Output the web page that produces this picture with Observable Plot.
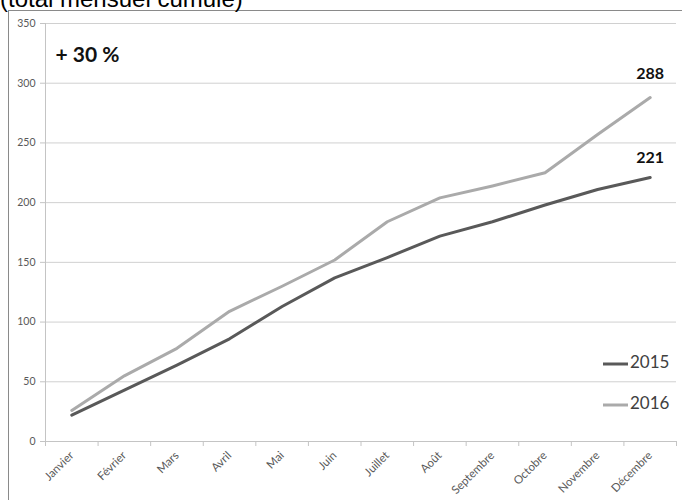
<!DOCTYPE html>
<html>
<head>
<meta charset="utf-8">
<script src="https://cdn.jsdelivr.net/npm/d3@7"></script>
<script src="https://cdn.jsdelivr.net/npm/@observablehq/plot@0.6"></script>
<style>
  html, body { margin: 0; padding: 0; background: #fff; width: 682px; height: 500px; overflow: hidden; position: relative; }
  #title { position: absolute; left: 0; top: -13px; font: 24px/24px "Liberation Sans", Arial, sans-serif; color: #000; white-space: nowrap; z-index: 2; }
  #frame { position: absolute; left: 8px; top: 10px; width: 700px; height: 520px; border: 1px solid #8a8a8a; background: #fff; }
  #chart { position: absolute; left: 0; top: 0; }
  .leg { position: absolute; font: 17px/17px Lato, "Open Sans", sans-serif; color: #404040; white-space: nowrap; }
  .leg svg { vertical-align: middle; margin-right: 2px; }
</style>
</head>
<body>
<div id="title">(total mensuel cumulé)</div>
<div id="frame"><div id="chart"></div></div>
<div id="legend"></div>
<script>
const months = ["Janvier","Février","Mars","Avril","Mai","Juin","Juillet","Août","Septembre","Octobre","Novembre","Décembre"];
const v2015 = [22, 43, 64, 86, 113, 137, 154, 172, 184, 198, 211, 221];
const v2016 = [26, 55, 78, 109, 130, 152, 184, 204, 214, 225, 257, 288];
const yTicks = [0, 50, 100, 150, 200, 250, 300, 350];
const seriesNames = ["2015", "2016"];
const seriesColors = ["#595959", "#aaaaaa"];
const growthLabel = "+ 30 %";

const rows = months.map((m, i) => ({pos: i + 0.5, month: m, y2015: v2015[i], y2016: v2016[i]}));
const last = rows[rows.length - 1];

const font = "Lato, 'Open Sans', sans-serif";

const chart = Plot.plot({
  width: 673,
  height: 489,
  marginLeft: 36,
  marginRight: 6,
  marginTop: 12,
  marginBottom: 59,
  style: {fontFamily: font, background: "transparent", overflow: "visible"},
  x: {type: "linear", domain: [0, months.length], axis: null, label: null},
  y: {domain: [0, 350], axis: null, label: null},
  marks: [
    Plot.gridY(yTicks, {stroke: "#d0d0d0", strokeOpacity: 1}),
    Plot.ruleY([0], {stroke: "#c4c4c4"}),
    Plot.ruleX([0], {stroke: "#c4c4c4"}),
    Plot.axisY({ticks: yTicks, label: null, tickSize: 5, tickPadding: 5, fontSize: 10.5, stroke: "#c4c4c4", fill: "#595959"}),
    Plot.axisX({ticks: d3.range(months.length + 1), label: null, tickFormat: () => "", tickSize: 5, stroke: "#c4c4c4"}),
    Plot.axisX({ticks: rows.map(d => d.pos), label: null, tickFormat: t => months[Math.floor(t)], tickSize: 0, tickPadding: 12, tickRotate: -45, fontSize: 11.5, fill: "#595959"}),
    Plot.line(rows, {x: "pos", y: "y2016", stroke: seriesColors[1], strokeWidth: 3}),
    Plot.line(rows, {x: "pos", y: "y2015", stroke: seriesColors[0], strokeWidth: 3}),
    Plot.text([last], {x: "pos", y: "y2016", text: d => String(d.y2016), dy: -24, fontSize: 16, fontWeight: "bold", fill: "#111"}),
    Plot.text([last], {x: "pos", y: "y2015", text: d => String(d.y2015), dy: -20, fontSize: 16, fontWeight: "bold", fill: "#111"}),
    Plot.text([growthLabel], {frameAnchor: "top-left", textAnchor: "start", lineAnchor: "middle", dx: 10, dy: 32, fontSize: 21, fontWeight: "bold", fill: "#111"})
  ]
});
document.getElementById("chart").appendChild(chart);

const legend = document.getElementById("legend");
const legendTops = [353, 394];
seriesNames.forEach((name, i) => {
  const div = document.createElement("div");
  div.className = "leg";
  div.style.left = "603px";
  div.style.top = legendTops[i] + "px";
  div.innerHTML = `<svg width="25" height="4"><line x1="0" x2="25" y1="2" y2="2" stroke="${seriesColors[i]}" stroke-width="3"/></svg>${name}`;
  legend.appendChild(div);
});
</script>
</body>
</html>
